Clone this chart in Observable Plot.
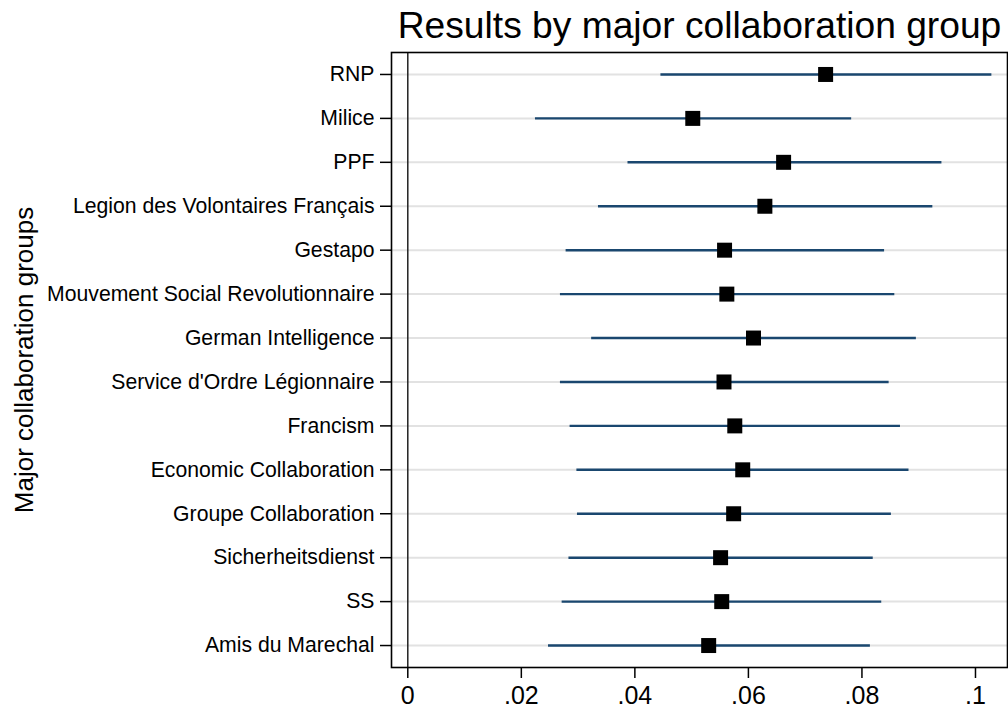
<!DOCTYPE html>
<html>
<head>
<meta charset="utf-8">
<script src="https://cdn.jsdelivr.net/npm/d3@7"></script>
<script src="https://cdn.jsdelivr.net/npm/@observablehq/plot@0.6"></script>
<style>
  html, body { margin: 0; padding: 0; background: #fff; }
  svg { display: block; }
</style>
</head>
<body>
<div id="chart"></div>
<script>
const titleText = "Results by major collaboration group";
const yAxisTitle = "Major collaboration groups";

const groups = [
  "RNP",
  "Milice",
  "PPF",
  "Legion des Volontaires Français",
  "Gestapo",
  "Mouvement Social Revolutionnaire",
  "German Intelligence",
  "Service d'Ordre Légionnaire",
  "Francism",
  "Economic Collaboration",
  "Groupe Collaboration",
  "Sicherheitsdienst",
  "SS",
  "Amis du Marechal"
];
const estimates = [0.0736, 0.0502, 0.0662, 0.0629, 0.0558, 0.0562, 0.0609, 0.0557, 0.0576, 0.0590, 0.0574, 0.0551, 0.0553, 0.0530];
const lower     = [0.0445, 0.0224, 0.0387, 0.0335, 0.0278, 0.0268, 0.0323, 0.0268, 0.0285, 0.0297, 0.0298, 0.0283, 0.0271, 0.0247];
const upper     = [0.1028, 0.0781, 0.0940, 0.0924, 0.0839, 0.0857, 0.0895, 0.0847, 0.0867, 0.0882, 0.0851, 0.0819, 0.0834, 0.0814];

const xTickValues = [0, 0.02, 0.04, 0.06, 0.08, 0.1];
const xTickLabels = ["0", ".02", ".04", ".06", ".08", ".1"];

const data = groups.map((g, i) => ({group: g, est: estimates[i], lo: lower[i], hi: upper[i]}));

const font = "'Liberation Sans', Arial, Helvetica, sans-serif";

const chart = Plot.plot({
  width: 1008,
  height: 709,
  marginLeft: 391,
  marginRight: 1,
  marginTop: 52,
  marginBottom: 42,
  style: {fontFamily: font, background: "#fff", color: "#000", overflow: "visible"},
  x: {domain: [-0.00287, 0.10564]},
  y: {type: "point", domain: groups, padding: 0.5, round: false},
  marks: [
    Plot.ruleY(groups, {y: d => d, stroke: "#e2e2e2", strokeWidth: 2}),
    Plot.ruleX([0], {stroke: "#222", strokeWidth: 1.5}),
    Plot.link(data, {x1: "lo", x2: "hi", y1: "group", y2: "group", stroke: "#1a476f", strokeWidth: 2.4}),
    Plot.dot(data, {x: "est", y: "group", symbol: "square", r: 8.46, fill: "#000", stroke: "none"}),
    Plot.frame({stroke: "#000", strokeWidth: 1.6}),
    Plot.axisY({
      ticks: groups, tickSize: 11, tickPadding: 6, fontSize: 21.2, label: null,
      stroke: "#000", strokeWidth: 1.5
    }),
    Plot.axisX({
      ticks: xTickValues, tickFormat: (d, i) => xTickLabels[i], tickSize: 11, tickPadding: 8,
      fontSize: 25, label: null, stroke: "#000", strokeWidth: 1.5
    }),
    Plot.text([titleText], {
      frameAnchor: "top", dy: -15, lineAnchor: "bottom", fontSize: 37.2, fill: "#000"
    }),
    Plot.text([yAxisTitle], {
      frameAnchor: "left", dx: -359, rotate: -90, textAnchor: "middle",
      lineAnchor: "bottom", fontSize: 26, fill: "#000"
    })
  ]
});
document.getElementById("chart").appendChild(chart);
</script>
</body>
</html>
